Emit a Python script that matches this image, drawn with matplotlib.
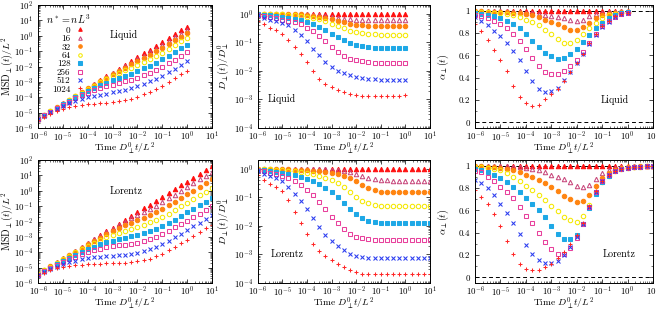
import numpy as np
import matplotlib
matplotlib.use("Agg")
import matplotlib.pyplot as plt
from matplotlib.ticker import LogLocator, MultipleLocator, NullFormatter

plt.rcParams.update({
    "font.family": "serif",
    "font.serif": ["cmr10", "DejaVu Serif"],
    "mathtext.fontset": "cm",
    "axes.formatter.use_mathtext": True,
    "axes.unicode_minus": True,
    "font.size": 6.8,
    "axes.linewidth": 0.7,
})

# ---------------- data (log10 exponents of time) ----------------
densities = ["0", "16", "32", "64", "128", "256", "512", "1024"]

t_liq_exp = [-6.0, -5.75, -5.5, -5.25, -5.0, -4.75, -4.5, -4.25, -4.0, -3.75, -3.5, -3.25, -3.0,
             -2.75, -2.5, -2.25, -2.0, -1.75, -1.5, -1.25, -1.0, -0.75, -0.5, -0.25, 0.0]
t_lor_exp = [-6.0, -5.75, -5.5, -5.25, -5.0, -4.75, -4.5, -4.25, -4.0, -3.75, -3.5, -3.25, -3.0,
             -2.75, -2.5, -2.25, -2.0, -1.75, -1.5, -1.25, -1.0, -0.75, -0.5, -0.25, 0.0,
             0.25, 0.5, 0.75, 1.0]

# log10 MSD, Liquid
msd_liq_0 = [-5.4, -5.15, -4.9, -4.65, -4.4, -4.15, -3.9, -3.65, -3.4, -3.15, -2.9, -2.65, -2.4, -2.15, -1.9, -1.65, -1.4, -1.15, -0.9, -0.65, -0.4, -0.15, 0.1, 0.35, 0.6]
msd_liq_16 = [-5.40, -5.15, -4.90, -4.65, -4.40, -4.16, -3.91, -3.66, -3.42, -3.17, -2.93, -2.69, -2.45, -2.22, -1.98, -1.75, -1.53, -1.30, -1.07, -0.84, -0.60, -0.36, -0.11, 0.14, 0.38]
msd_liq_32 = [-5.40, -5.15, -4.90, -4.65, -4.41, -4.16, -3.91, -3.67, -3.43, -3.19, -2.95, -2.72, -2.50, -2.28, -2.07, -1.86, -1.66, -1.46, -1.25, -1.02, -0.79, -0.55, -0.30, -0.06, 0.19]
msd_liq_64 = [-5.41, -5.16, -4.91, -4.67, -4.42, -4.18, -3.94, -3.70, -3.47, -3.24, -3.03, -2.82, -2.62, -2.43, -2.26, -2.09, -1.91, -1.73, -1.53, -1.32, -1.09, -0.86, -0.62, -0.37, -0.13]
msd_liq_128 = [-5.41, -5.17, -4.93, -4.69, -4.45, -4.22, -4.00, -3.78, -3.58, -3.39, -3.21, -3.05, -2.90, -2.76, -2.61, -2.46, -2.30, -2.13, -1.94, -1.74, -1.53, -1.30, -1.06, -0.82, -0.57]
msd_liq_256 = [-5.42, -5.18, -4.95, -4.72, -4.49, -4.28, -4.07, -3.88, -3.71, -3.55, -3.42, -3.30, -3.19, -3.08, -2.97, -2.85, -2.72, -2.57, -2.40, -2.22, -2.01, -1.79, -1.56, -1.32, -1.07]
msd_liq_512 = [-5.43, -5.20, -4.98, -4.77, -4.57, -4.38, -4.23, -4.10, -3.99, -3.90, -3.83, -3.76, -3.69, -3.61, -3.52, -3.41, -3.28, -3.14, -2.97, -2.79, -2.59, -2.37, -2.14, -1.89, -1.64]
msd_liq_1024 = [-5.47, -5.26, -5.07, -4.90, -4.76, -4.64, -4.55, -4.49, -4.45, -4.42, -4.40, -4.37, -4.33, -4.27, -4.19, -4.09, -3.96, -3.81, -3.64, -3.45, -3.24, -3.01, -2.77, -2.52, -2.27]

# log10 MSD, Lorentz
msd_lor_0 = [-5.4, -5.15, -4.9, -4.65, -4.4, -4.15, -3.9, -3.65, -3.4, -3.15, -2.9, -2.65, -2.4, -2.15, -1.9, -1.65, -1.4, -1.15, -0.9, -0.65, -0.4, -0.15, 0.1, 0.35, 0.6, 0.85, 1.1, 1.35, 1.6]
msd_lor_16 = [-5.40, -5.15, -4.90, -4.65, -4.40, -4.15, -3.90, -3.66, -3.41, -3.17, -2.93, -2.69, -2.46, -2.23, -2.01, -1.79, -1.58, -1.38, -1.17, -0.96, -0.73, -0.50, -0.25, -0.01, 0.24, 0.49, 0.74, 0.99, 1.24]
msd_lor_32 = [-5.41, -5.17, -4.92, -4.68, -4.43, -4.19, -3.96, -3.72, -3.49, -3.27, -3.05, -2.84, -2.64, -2.44, -2.26, -2.08, -1.91, -1.75, -1.57, -1.38, -1.17, -0.94, -0.71, -0.47, -0.23, 0.01, 0.26, 0.51, 0.75]
msd_lor_64 = [-5.42, -5.18, -4.94, -4.70, -4.47, -4.24, -4.01, -3.80, -3.59, -3.40, -3.21, -3.04, -2.88, -2.73, -2.59, -2.46, -2.34, -2.21, -2.06, -1.89, -1.70, -1.48, -1.25, -1.02, -0.78, -0.54, -0.30, -0.06, 0.19]
msd_lor_128 = [-5.46, -5.23, -5.01, -4.79, -4.57, -4.36, -4.17, -3.98, -3.80, -3.64, -3.49, -3.36, -3.24, -3.14, -3.05, -2.97, -2.88, -2.78, -2.65, -2.49, -2.30, -2.09, -1.87, -1.64, -1.41, -1.17, -0.94, -0.70, -0.47]
msd_lor_256 = [-5.47, -5.25, -5.04, -4.83, -4.64, -4.46, -4.28, -4.13, -3.99, -3.87, -3.77, -3.68, -3.62, -3.56, -3.52, -3.46, -3.39, -3.29, -3.16, -3.00, -2.81, -2.61, -2.39, -2.17, -1.94, -1.71, -1.48, -1.25, -1.02]
msd_lor_512 = [-5.47, -5.27, -5.09, -4.93, -4.79, -4.66, -4.55, -4.46, -4.39, -4.33, -4.29, -4.26, -4.24, -4.20, -4.16, -4.11, -4.04, -3.94, -3.81, -3.65, -3.46, -3.25, -3.02, -2.79, -2.55, -2.31, -2.07, -1.82, -1.58]
msd_lor_1024 = [-5.50, -5.32, -5.17, -5.05, -4.95, -4.88, -4.83, -4.80, -4.78, -4.76, -4.75, -4.73, -4.71, -4.70, -4.68, -4.65, -4.60, -4.52, -4.41, -4.26, -4.09, -3.88, -3.66, -3.43, -3.19, -2.94, -2.70, -2.45, -2.20]

# log10 D/D0, Liquid
dif_liq_0 = [0.0] * 25
dif_liq_16 = [0.0, 0.0, 0.0, -0.005, -0.01, -0.01, -0.01, -0.015, -0.02, -0.04, -0.06, -0.09, -0.12, -0.15, -0.18, -0.20, -0.21, -0.21, -0.21, -0.21, -0.21, -0.21, -0.21, -0.21, -0.21]
dif_liq_32 = [0.0, 0.0, -0.01, -0.01, -0.01, -0.02, -0.02, -0.03, -0.05, -0.07, -0.11, -0.15, -0.20, -0.25, -0.31, -0.36, -0.40, -0.41, -0.42, -0.42, -0.42, -0.42, -0.42, -0.42, -0.42]
dif_liq_64 = [-0.01, -0.01, -0.02, -0.02, -0.03, -0.04, -0.06, -0.08, -0.11, -0.15, -0.20, -0.27, -0.35, -0.44, -0.52, -0.60, -0.66, -0.69, -0.71, -0.73, -0.74, -0.74, -0.74, -0.74, -0.74]
dif_liq_128 = [-0.02, -0.05, -0.06, -0.08, -0.11, -0.14, -0.18, -0.22, -0.28, -0.36, -0.47, -0.58, -0.70, -0.82, -0.94, -1.02, -1.09, -1.13, -1.17, -1.19, -1.20, -1.20, -1.20, -1.20, -1.20]
dif_liq_256 = [-0.04, -0.07, -0.12, -0.17, -0.21, -0.25, -0.31, -0.38, -0.50, -0.62, -0.78, -0.97, -1.17, -1.33, -1.47, -1.57, -1.63, -1.67, -1.70, -1.71, -1.72, -1.72, -1.72, -1.72, -1.72]
dif_liq_512 = [-0.06, -0.14, -0.21, -0.27, -0.33, -0.41, -0.56, -0.76, -0.97, -1.23, -1.46, -1.70, -1.87, -1.99, -2.07, -2.13, -2.20, -2.25, -2.28, -2.30, -2.32, -2.32, -2.32, -2.32, -2.32]
dif_liq_1024 = [-0.26, -0.35, -0.49, -0.58, -0.70, -0.91, -1.17, -1.40, -1.70, -2.01, -2.30, -2.46, -2.58, -2.66, -2.74, -2.80, -2.85, -2.88, -2.89, -2.89, -2.89, -2.89, -2.89, -2.88, -2.84]

# log10 D/D0, Lorentz
dif_lor_0 = [0.0] * 29
dif_lor_16 = [0.0, 0.0, 0.0, 0.0, 0.0, -0.005, -0.01, -0.01, -0.015, -0.02, -0.025, -0.03, -0.04, -0.06, -0.09, -0.13, -0.19, -0.26, -0.32, -0.37, -0.40, -0.41, -0.42, -0.42, -0.42, -0.42, -0.42, -0.42, -0.42]
dif_lor_32 = [-0.01, -0.01, -0.02, -0.02, -0.03, -0.03, -0.04, -0.05, -0.06, -0.08, -0.10, -0.12, -0.15, -0.19, -0.25, -0.33, -0.44, -0.57, -0.68, -0.76, -0.81, -0.83, -0.83, -0.83, -0.83, -0.83, -0.83, -0.83, -0.83]
dif_lor_64 = [-0.01, -0.02, -0.03, -0.04, -0.06, -0.08, -0.10, -0.13, -0.16, -0.20, -0.25, -0.32, -0.40, -0.52, -0.66, -0.82, -0.98, -1.12, -1.22, -1.28, -1.31, -1.32, -1.32, -1.32, -1.32, -1.32, -1.32, -1.32, -1.32]
dif_lor_128 = [-0.04, -0.06, -0.08, -0.11, -0.14, -0.18, -0.22, -0.28, -0.35, -0.45, -0.55, -0.68, -0.83, -1.01, -1.21, -1.41, -1.59, -1.74, -1.82, -1.86, -1.89, -1.91, -1.91, -1.91, -1.91, -1.91, -1.91, -1.91, -1.91]
dif_lor_256 = [-0.06, -0.09, -0.14, -0.19, -0.25, -0.33, -0.45, -0.59, -0.74, -0.94, -1.17, -1.42, -1.68, -1.91, -2.11, -2.27, -2.38, -2.44, -2.47, -2.50, -2.50, -2.50, -2.50, -2.50, -2.50, -2.50, -2.50, -2.50, -2.50]
dif_lor_512 = [-0.09, -0.18, -0.25, -0.33, -0.45, -0.64, -0.89, -1.13, -1.41, -1.71, -2.03, -2.32, -2.53, -2.70, -2.84, -2.97, -3.05, -3.09, -3.12, -3.14, -3.14, -3.14, -3.14, -3.14, -3.14, -3.14, -3.14, -3.14, -3.14]
dif_lor_1024 = [-0.23, -0.39, -0.54, -0.64, -0.80, -1.09, -1.50, -1.89, -2.30, -2.65, -2.88, -3.05, -3.20, -3.32, -3.43, -3.55, -3.63, -3.69, -3.70, -3.70, -3.70, -3.70, -3.70, -3.70, -3.70, -3.70, -3.70, -3.70, -3.70]

# alpha, Liquid
alp_liq_0 = [1.0] * 25
alp_liq_16 = [1.0, 1.0, 1.0, 1.0, 1.0, 0.995, 0.99, 0.99, 0.98, 0.98, 0.97, 0.96, 0.95, 0.94, 0.93, 0.92, 0.91, 0.92, 0.95, 0.97, 0.98, 0.99, 0.99, 1.0, 1.0]
alp_liq_32 = [1.0, 1.0, 0.99, 0.99, 0.99, 0.99, 0.98, 0.98, 0.97, 0.96, 0.94, 0.92, 0.90, 0.88, 0.85, 0.83, 0.83, 0.85, 0.89, 0.93, 0.96, 0.97, 0.98, 0.99, 0.99]
alp_liq_64 = [0.99, 0.99, 0.99, 0.98, 0.98, 0.97, 0.96, 0.94, 0.92, 0.90, 0.87, 0.83, 0.79, 0.75, 0.71, 0.71, 0.74, 0.79, 0.84, 0.89, 0.93, 0.96, 0.97, 0.98, 0.99]
alp_liq_128 = [0.98, 0.97, 0.96, 0.95, 0.93, 0.91, 0.88, 0.84, 0.79, 0.73, 0.67, 0.62, 0.59, 0.57, 0.58, 0.61, 0.66, 0.72, 0.78, 0.84, 0.89, 0.93, 0.96, 0.98, 0.99]
alp_liq_256 = [0.96, 0.95, 0.93, 0.91, 0.88, 0.84, 0.79, 0.73, 0.66, 0.58, 0.50, 0.45, 0.43, 0.43, 0.46, 0.50, 0.56, 0.63, 0.71, 0.79, 0.86, 0.91, 0.94, 0.97, 0.98]
alp_liq_512 = [0.94, 0.91, 0.87, 0.82, 0.77, 0.71, 0.64, 0.56, 0.46, 0.37, 0.30, 0.27, 0.28, 0.31, 0.38, 0.45, 0.53, 0.61, 0.70, 0.78, 0.85, 0.90, 0.94, 0.97, 0.98]
alp_liq_1024 = [0.88, 0.82, 0.74, 0.65, 0.56, 0.46, 0.33, 0.23, 0.17, 0.15, 0.16, 0.21, 0.25, 0.30, 0.37, 0.45, 0.53, 0.61, 0.71, 0.79, 0.86, 0.91, 0.95, 0.97, 0.98]

# alpha, Lorentz
alp_lor_0 = [1.0] * 29
alp_lor_16 = [1.0, 1.0, 1.0, 1.0, 0.995, 0.995, 0.99, 0.985, 0.98, 0.97, 0.96, 0.94, 0.92, 0.90, 0.88, 0.85, 0.82, 0.81, 0.83, 0.88, 0.93, 0.96, 0.98, 0.99, 0.99, 1.0, 1.0, 1.0, 1.0]
alp_lor_32 = [1.0, 0.995, 0.99, 0.99, 0.98, 0.97, 0.96, 0.94, 0.92, 0.90, 0.87, 0.84, 0.81, 0.77, 0.73, 0.70, 0.67, 0.68, 0.74, 0.82, 0.89, 0.93, 0.96, 0.98, 0.99, 0.99, 1.0, 1.0, 1.0]
alp_lor_64 = [0.99, 0.99, 0.98, 0.97, 0.96, 0.93, 0.90, 0.86, 0.82, 0.78, 0.74, 0.69, 0.64, 0.59, 0.54, 0.51, 0.50, 0.55, 0.65, 0.76, 0.85, 0.91, 0.95, 0.97, 0.98, 0.99, 0.99, 1.0, 1.0]
alp_lor_128 = [0.97, 0.96, 0.94, 0.92, 0.89, 0.85, 0.81, 0.76, 0.71, 0.66, 0.60, 0.54, 0.46, 0.39, 0.345, 0.34, 0.38, 0.48, 0.62, 0.75, 0.85, 0.91, 0.95, 0.97, 0.98, 0.99, 0.99, 1.0, 1.0]
alp_lor_256 = [0.95, 0.94, 0.90, 0.86, 0.81, 0.76, 0.71, 0.63, 0.55, 0.49, 0.40, 0.32, 0.25, 0.21, 0.21, 0.26, 0.35, 0.48, 0.63, 0.76, 0.86, 0.92, 0.95, 0.97, 0.98, 0.99, 0.99, 1.0, 1.0]
alp_lor_512 = [0.87, 0.84, 0.80, 0.74, 0.66, 0.58, 0.49, 0.39, 0.29, 0.21, 0.16, 0.13, 0.125, 0.15, 0.20, 0.27, 0.36, 0.48, 0.63, 0.76, 0.86, 0.92, 0.95, 0.97, 0.98, 0.99, 0.99, 1.0, 1.0]
alp_lor_1024 = [0.78, 0.72, 0.66, 0.57, 0.46, 0.33, 0.21, 0.12, 0.075, 0.065, 0.07, 0.09, 0.12, 0.17, 0.23, 0.30, 0.38, 0.49, 0.64, 0.77, 0.86, 0.92, 0.95, 0.97, 0.98, 0.99, 0.99, 1.0, 1.0]

msd_liq = [msd_liq_0, msd_liq_16, msd_liq_32, msd_liq_64, msd_liq_128, msd_liq_256, msd_liq_512, msd_liq_1024]
msd_lor = [msd_lor_0, msd_lor_16, msd_lor_32, msd_lor_64, msd_lor_128, msd_lor_256, msd_lor_512, msd_lor_1024]
dif_liq = [dif_liq_0, dif_liq_16, dif_liq_32, dif_liq_64, dif_liq_128, dif_liq_256, dif_liq_512, dif_liq_1024]
dif_lor = [dif_lor_0, dif_lor_16, dif_lor_32, dif_lor_64, dif_lor_128, dif_lor_256, dif_lor_512, dif_lor_1024]
alp_liq = [alp_liq_0, alp_liq_16, alp_liq_32, alp_liq_64, alp_liq_128, alp_liq_256, alp_liq_512, alp_liq_1024]
alp_lor = [alp_lor_0, alp_lor_16, alp_lor_32, alp_lor_64, alp_lor_128, alp_lor_256, alp_lor_512, alp_lor_1024]

# ---------------- styles ----------------
styles = [
    dict(marker="^", color="#ff1010", mfc="#ff1010"),
    dict(marker="^", color="#c8487c", mfc="none"),
    dict(marker="o", color="#ff8410", mfc="#ff8410"),
    dict(marker="o", color="#f5e800", mfc="none"),
    dict(marker="s", color="#1ea8e6", mfc="#1ea8e6"),
    dict(marker="s", color="#e8409c", mfc="none"),
    dict(marker="x", color="#2a3cf0", mfc="none"),
    dict(marker="+", color="#ff2828", mfc="none"),
]
MS = 3.2
FS_TICK = 6.4
FS_LAB = 7.1
FS_XLAB = 6.9

fig = plt.figure(figsize=(6.56, 3.10), dpi=100)
W, H = 656.0, 310.0
cols = [(38, 212), (257.7, 430), (475, 653)]
rows = [(5, 128), (160, 283)]
ylabel_x_px = [7.5, 223, 443]     # centre of y-label, figure pixels
xlabel_dy_px = 20.0               # centre of x-label below the axes, pixels

axes = {}
for r, (yt, yb) in enumerate(rows):
    for c, (xl, xr) in enumerate(cols):
        axes[(r, c)] = fig.add_axes([xl / W, 1 - yb / H, (xr - xl) / W, (yb - yt) / H])


def style_axis(ax, logy, r, c):
    ax.set_xscale("log")
    ax.set_xlim(1e-6, 1e1)
    ax.xaxis.set_major_locator(LogLocator(base=10, numticks=20))
    ax.xaxis.set_minor_locator(LogLocator(base=10, subs=np.arange(2, 10), numticks=20))
    ax.xaxis.set_minor_formatter(NullFormatter())
    if logy:
        ax.set_yscale("log")
        ax.yaxis.set_major_locator(LogLocator(base=10, numticks=20))
        ax.yaxis.set_minor_locator(LogLocator(base=10, subs=np.arange(2, 10), numticks=20))
        ax.yaxis.set_minor_formatter(NullFormatter())
    ax.tick_params(which="both", direction="in", top=True, right=True, labelsize=FS_TICK)
    ax.tick_params(axis="x", which="major", pad=1.5)
    ax.tick_params(axis="y", which="major", pad=3.5)
    ax.tick_params(which="major", length=3, width=0.5)
    ax.tick_params(which="minor", length=1.6, width=0.4)
    ax.set_xlabel(r"Time $D^0_\perp t/L^2$", fontsize=FS_XLAB, va="center")
    yt, yb = rows[r]
    ax.xaxis.set_label_coords(0.5, -xlabel_dy_px / (yb - yt))


def place_ylabel(ax, r, c):
    xl, xr = cols[c]
    ax.yaxis.label.set_va("center")
    ax.yaxis.set_label_coords((ylabel_x_px[c] - xl) / (xr - xl), 0.5)


for r, (texp, msd_set, dif_set, alp_set, name) in enumerate([
        (t_liq_exp, msd_liq, dif_liq, alp_liq, "Liquid"),
        (t_lor_exp, msd_lor, dif_lor, alp_lor, "Lorentz")]):
    t = np.power(10.0, np.array(texp))
    axm, axd, axa = axes[(r, 0)], axes[(r, 1)], axes[(r, 2)]
    for k, lab in enumerate(densities):
        st = styles[k]
        kw = dict(ls="none", marker=st["marker"], color=st["color"], mfc=st["mfc"],
                  mec=st["color"], ms=MS, mew=0.75)
        axm.plot(t, np.power(10.0, np.array(msd_set[k])), label=lab, **kw)
        axd.plot(t, np.power(10.0, np.array(dif_set[k])), **kw)
        axa.plot(t, alp_set[k], **kw)

    style_axis(axm, True, r, 0)
    axm.set_ylim(1e-6, 1e2)
    axm.set_ylabel(r"MSD$_\perp(t)/L^2$", fontsize=FS_LAB)
    place_ylabel(axm, r, 0)

    style_axis(axd, True, r, 1)
    axd.set_ylim(1e-4, 2)
    axd.set_ylabel(r"$D_\perp(t)/D^0_\perp$", fontsize=FS_LAB)
    place_ylabel(axd, r, 1)

    style_axis(axa, False, r, 2)
    axa.set_ylim(-0.05, 1.05)
    axa.yaxis.set_minor_locator(MultipleLocator(0.1))
    axa.set_yticks([0, 0.2, 0.4, 0.6, 0.8, 1.0])
    axa.set_yticklabels(["0", "0.2", "0.4", "0.6", "0.8", "1"])
    axa.axhline(0, color="k", ls=(0, (4, 3)), lw=0.7, zorder=0)
    axa.axhline(1, color="k", ls=(0, (4, 3)), lw=0.7, zorder=0)
    axa.set_ylabel(r"$\alpha_\perp(t)$", fontsize=FS_LAB)
    place_ylabel(axa, r, 2)

    if r == 0:
        axm.text(0.49, 0.755, name, transform=axm.transAxes, ha="center", va="center", fontsize=FS_LAB)
        axd.text(0.14, 0.235, name, transform=axd.transAxes, ha="center", va="center", fontsize=FS_LAB)
        axa.text(0.785, 0.23, name, transform=axa.transAxes, ha="center", va="center", fontsize=FS_LAB)
    else:
        axm.text(0.505, 0.75, name, transform=axm.transAxes, ha="center", va="center", fontsize=FS_LAB)
        axd.text(0.173, 0.235, name, transform=axd.transAxes, ha="center", va="center", fontsize=FS_LAB)
        axa.text(0.81, 0.23, name, transform=axa.transAxes, ha="center", va="center", fontsize=FS_LAB)

leg = axes[(0, 0)].legend(loc="upper left", bbox_to_anchor=(0.0, 1.0), frameon=False,
                          markerfirst=False, title=r"$n^* = nL^3$", fontsize=6.6,
                          title_fontsize=7.3, labelspacing=0.0, handletextpad=0.7,
                          handlelength=0.8, borderpad=0.35, markerscale=0.8)

fig.savefig("out.png", dpi=100)
